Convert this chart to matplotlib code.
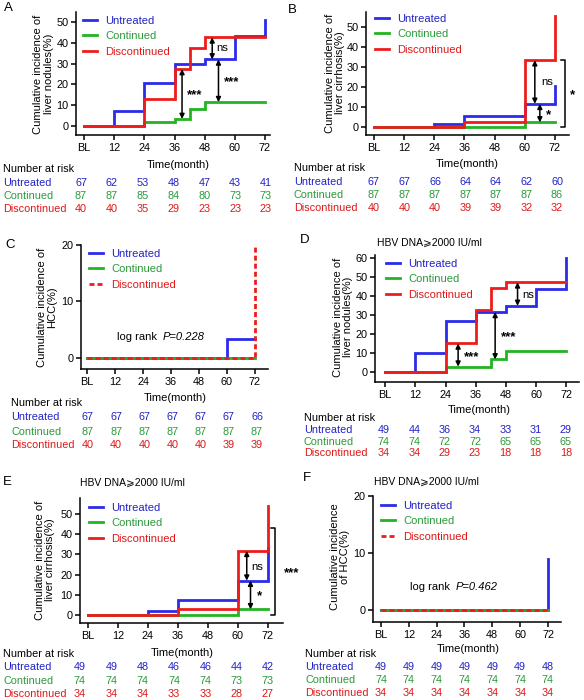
import matplotlib
matplotlib.use("Agg")
import matplotlib.pyplot as plt
import numpy as np

plt.rcParams['font.family'] = ['Liberation Sans', 'DejaVu Sans']
plt.rcParams['axes.linewidth'] = 1.1

W, H = 584, 700

# colours
C_UNT, C_CON, C_DIS = '#2b2bea', '#22b422', '#ee1c1c'
T_UNT, T_CON, T_DIS = '#2222c8', '#2a9a3a', '#e01818'

groups = ['Untreated', 'Continued', 'Discontinued']
months = [0, 12, 24, 36, 48, 60, 72]
month_labels = ['BL', '12', '24', '36', '48', '60', '72']

# ---- data : event times (months) and cumulative incidence (%) after each event
A_unt_t = [0, 12, 24, 36, 48, 60, 72]
A_unt_v = [0, 7.2, 20.7, 29.8, 32.0, 43.3, 51.0]
A_con_t = [0, 24, 36, 42, 48, 72]
A_con_v = [0, 2.1, 3.4, 8.3, 11.5, 11.5]
A_dis_t = [0, 24, 36, 42, 48, 72]
A_dis_v = [0, 12.8, 27.4, 37.7, 42.6, 42.6]
A_risk = [[67, 62, 53, 48, 47, 43, 41],
          [87, 87, 85, 84, 80, 73, 73],
          [40, 40, 35, 29, 23, 23, 23]]

B_unt_t = [0, 24, 36, 60, 72]
B_unt_v = [0, 1.7, 5.3, 11.6, 20.5]
B_con_t = [0, 60, 72]
B_con_v = [0, 2.3, 2.3]
B_dis_t = [0, 36, 60, 72]
B_dis_v = [0, 2.5, 33.4, 55.5]
B_risk = [[67, 67, 66, 64, 64, 62, 60],
          [87, 87, 87, 87, 87, 87, 86],
          [40, 40, 40, 39, 39, 32, 32]]

C_unt_t = [0, 60, 72]
C_unt_v = [0, 3.3, 3.3]
C_con_t = [0, 72]
C_con_v = [0, 0]
C_dis_t = [0, 72]
C_dis_v = [0, 20]
C_risk = [[67, 67, 67, 67, 67, 67, 66],
          [87, 87, 87, 87, 87, 87, 87],
          [40, 40, 40, 40, 40, 39, 39]]

D_unt_t = [0, 12, 24, 36, 48, 60, 72]
D_unt_v = [0, 10.1, 26.9, 31.6, 34.8, 43.9, 60.0]
D_con_t = [0, 24, 42, 48, 72]
D_con_v = [0, 2.8, 6.6, 11.0, 11.0]
D_dis_t = [0, 24, 36, 42, 48, 72]
D_dis_v = [0, 15.0, 32.5, 44.2, 47.2, 47.2]
D_risk = [[49, 44, 36, 34, 33, 31, 29],
          [74, 74, 72, 72, 65, 65, 65],
          [34, 34, 29, 23, 18, 18, 18]]

E_unt_t = [0, 24, 36, 60, 72]
E_unt_v = [0, 2.0, 7.4, 17.0, 33.0]
E_con_t = [0, 60, 72]
E_con_v = [0, 2.8, 2.8]
E_dis_t = [0, 36, 60, 72]
E_dis_v = [0, 3.0, 31.8, 54.0]
E_risk = [[49, 49, 48, 46, 46, 44, 42],
          [74, 74, 74, 74, 74, 73, 73],
          [34, 34, 34, 33, 33, 28, 27]]

F_unt_t = [0, 72]
F_unt_v = [0, 9.0]
F_con_t = [0, 72]
F_con_v = [0, 0]
F_dis_t = [0, 72]
F_dis_v = [0, 0]
F_risk = [[49, 49, 49, 49, 49, 49, 48],
          [74, 74, 74, 74, 74, 74, 74],
          [34, 34, 34, 34, 34, 34, 34]]

fig = plt.figure(figsize=(W / 100, H / 100), dpi=100)


def fx(x):
    return x / W


def fy(y):
    return 1 - y / H


def make_ax(l, t, r, b, xlim, ylim, yticks):
    ax = fig.add_axes([fx(l), fy(b), (r - l) / W, (b - t) / H])
    ax.set_xlim(*xlim)
    ax.set_ylim(*ylim)
    ax.set_xticks(months)
    ax.set_xticklabels(month_labels)
    ax.set_yticks(yticks)
    for s in ['top', 'right']:
        ax.spines[s].set_visible(False)
    ax.tick_params(direction='out', length=3.5, width=1.1, labelsize=7.8, pad=2)
    ax.patch.set_alpha(0)
    return ax


def curves(ax, data, dashed=False):
    lines = []
    cols = [C_UNT, C_CON, C_DIS]
    for i in range(3):
        t, v = data[i]
        kw = dict(where='post', color=cols[i], lw=2.0, solid_joinstyle='miter')
        if dashed and i == 2:
            kw['linestyle'] = (0, (1.8, 1.1))
        ln, = ax.step(t, v, label=groups[i], **kw)
        lines.append(ln)
    return lines


def legend(ax, lines, geo, x, y):
    l, t, r, b = geo
    ax_x = (x - l) / (r - l)
    ax_y = (b - (y - 6)) / (b - t)
    leg = ax.legend(lines, groups, loc='upper left', bbox_to_anchor=(ax_x, ax_y),
                    frameon=False, borderpad=0, borderaxespad=0, fontsize=8,
                    handlelength=1.3, handletextpad=0.7, labelspacing=0.48)
    for txt, c in zip(leg.get_texts(), [T_UNT, T_CON, T_DIS]):
        txt.set_color(c)


def dbl_arrow(ax, x, y1, y2, label, lx, ly):
    ax.annotate('', xy=(x, y1), xytext=(x, y2),
                arrowprops=dict(arrowstyle='<|-|>', color='black', lw=1.1,
                                mutation_scale=7, shrinkA=0, shrinkB=0))
    stars = label.startswith('*')
    ax.text(lx, ly, label, fontsize=9.5 if stars else 8.2,
            fontweight='bold' if stars else 'normal', ha='left', va='center')


def bracket(ax, x, y1, y2, label, lx, ly):
    ax.plot([x - 1.5, x, x, x - 1.5], [y1, y1, y2, y2], color='black', lw=1.1,
            clip_on=False)
    ax.text(lx, ly, label, fontsize=9.5, fontweight='bold', ha='left',
            va='center', clip_on=False)


def risk_table(rows, name_x, head_y, row_ys, col_x0, col_x1):
    fig.text(fx(name_x), fy(head_y), 'Number at risk', fontsize=7.8,
             ha='left', va='center')
    cols = np.linspace(col_x0, col_x1, len(months))
    for vals, yy, g, c in zip(rows, row_ys, groups, [T_UNT, T_CON, T_DIS]):
        fig.text(fx(name_x), fy(yy), g, fontsize=7.8, color=c, ha='left', va='center')
        for cx, v in zip(cols, vals):
            fig.text(fx(cx), fy(yy), str(v), fontsize=7.8, color=c,
                     ha='center', va='center')


def ylab(text, x, y):
    fig.text(fx(x), fy(y), text, rotation=90, fontsize=8, ha='center',
             va='center', multialignment='center', linespacing=1.1)


def xlab(x, y):
    fig.text(fx(x), fy(y), 'Time(month)', fontsize=8, ha='center', va='center')


def panel_letter(letter, x, y):
    fig.text(fx(x), fy(y), letter, fontsize=9.5, ha='center', va='center')


# ---------------- A
gA = (76, 12, 270, 135)
axA = make_ax(*gA, (-3.2, 74), (-4.3, 54.8), range(0, 51, 10))
lnA = curves(axA, [(A_unt_t, A_unt_v), (A_con_t, A_con_v), (A_dis_t, A_dis_v)])
legend(axA, lnA, gA, 83, 22)
dbl_arrow(axA, 39, A_dis_v[2], A_con_v[2], '***', 41, 15)
dbl_arrow(axA, 53.5, A_unt_v[4], A_con_v[4], '***', 55.5, 21.3)
dbl_arrow(axA, 51, A_dis_v[4], A_unt_v[4], 'ns', 52.5, 37.3)
ylab('Cumulative incidence of\nliver nodules(%)', 43.5, 74)
xlab(178, 165)
panel_letter('A', 8, 8)
risk_table(A_risk, 3, 169, [183, 196, 209], 81, 266)

# ---------------- B
gB = (366, 12, 569, 135)
axB = make_ax(*gB, (-3.2, 77.6), (-4, 57.5), range(0, 51, 10))
lnB = curves(axB, [(B_unt_t, B_unt_v), (B_con_t, B_con_v), (B_dis_t, B_dis_v)])
legend(axB, lnB, gB, 375, 20)
dbl_arrow(axB, 64, B_dis_v[2], B_unt_v[3], 'ns', 66.5, 22.7)
dbl_arrow(axB, 66, B_unt_v[3], B_con_v[1], '*', 68.5, 6.1)
bracket(axB, 76, B_dis_v[2], 0, '*', 78, 16)
ylab('Cumulative incidence of\nliver cirrhosis(%)', 335, 73)
xlab(467, 164)
panel_letter('B', 292, 10)
risk_table(B_risk, 294, 168, [182, 195, 208], 374, 557)

# ---------------- C
gC = (81, 245, 268, 369)
axC = make_ax(*gC, (-2.6, 77.6), (-1.95, 20), [0, 10, 20])
lnC = curves(axC, [(C_unt_t, C_unt_v), (C_con_t, C_con_v), (C_dis_t, C_dis_v)],
             dashed=True)
legend(axC, lnC, gC, 89, 255)
fig.text(fx(157), fy(337), 'log rank', fontsize=8, ha='right', va='center')
fig.text(fx(163), fy(337), 'P=0.228', fontsize=8, ha='left', va='center',
         style='italic')
ylab('Cumulative incidence of\nHCC(%)', 47, 307)
xlab(175, 398)
panel_letter('C', 10, 245)
risk_table(C_risk, 11, 403, [417, 432, 445], 88, 257)

# ---------------- D
gD = (375, 255, 579, 382)
axD = make_ax(*gD, (-4, 77), (-5.3, 61.6), range(0, 61, 10))
lnD = curves(axD, [(D_unt_t, D_unt_v), (D_con_t, D_con_v), (D_dis_t, D_dis_v)])
legend(axD, lnD, gD, 386, 265)
dbl_arrow(axD, 29, D_dis_v[1], D_con_v[1], '***', 31.5, 8)
dbl_arrow(axD, 43.7, D_unt_v[3], D_con_v[2], '***', 46, 18.5)
dbl_arrow(axD, 52.6, D_dis_v[4], D_unt_v[4], 'ns', 54.5, 40.4)
fig.text(fx(377), fy(243), 'HBV DNA⩾2000 IU/ml', fontsize=7.5, ha='left', va='center')
ylab('Cumulative incidence of\nliver nodules(%)', 343, 317)
xlab(479, 410)
panel_letter('D', 305, 240)
risk_table(D_risk, 304, 418, [430, 442, 453], 384, 566)

# ---------------- E
gE = (80, 498, 283, 623)
axE = make_ax(*gE, (-3.2, 78), (-4, 58), range(0, 51, 10))
lnE = curves(axE, [(E_unt_t, E_unt_v), (E_con_t, E_con_v), (E_dis_t, E_dis_v)])
legend(axE, lnE, gE, 89, 509)
dbl_arrow(axE, 63.5, E_dis_v[2], E_unt_v[3], 'ns', 65.5, 24)
dbl_arrow(axE, 65, E_unt_v[3], E_con_v[1], '*', 67.5, 9.4)
bracket(axE, 74.8, 42.9, 0, '***', 78.5, 20.6)
fig.text(fx(80), fy(483), 'HBV DNA⩾2000 IU/ml', fontsize=7.5, ha='left', va='center')
ylab('Cumulative incidence of\nliver cirrhosis(%)', 45, 560)
xlab(182, 653)
panel_letter('E', 7, 482)
risk_table(E_risk, 3, 654, [667, 681, 694], 80, 268)

# ---------------- F
gF = (373, 496, 561, 622)
axF = make_ax(*gF, (-3.4, 77.6), (-2.1, 20), [0, 10, 20])
lnF = curves(axF, [(F_unt_t, F_unt_v), (F_con_t, F_con_v), (F_dis_t, F_dis_v)],
             dashed=True)
legend(axF, lnF, gF, 381, 507)
fig.text(fx(450), fy(587), 'log rank', fontsize=8, ha='right', va='center')
fig.text(fx(456), fy(587), 'P=0.462', fontsize=8, ha='left', va='center',
         style='italic')
fig.text(fx(374), fy(482), 'HBV DNA⩾2000 IU/ml', fontsize=7.5, ha='left', va='center')
ylab('Cumulative incidence\nof HCC(%)', 340, 557)
xlab(468, 649)
panel_letter('F', 307, 478)
risk_table(F_risk, 305, 654, [667, 680, 693], 381, 548)

fig.savefig('out.png', dpi=100)
